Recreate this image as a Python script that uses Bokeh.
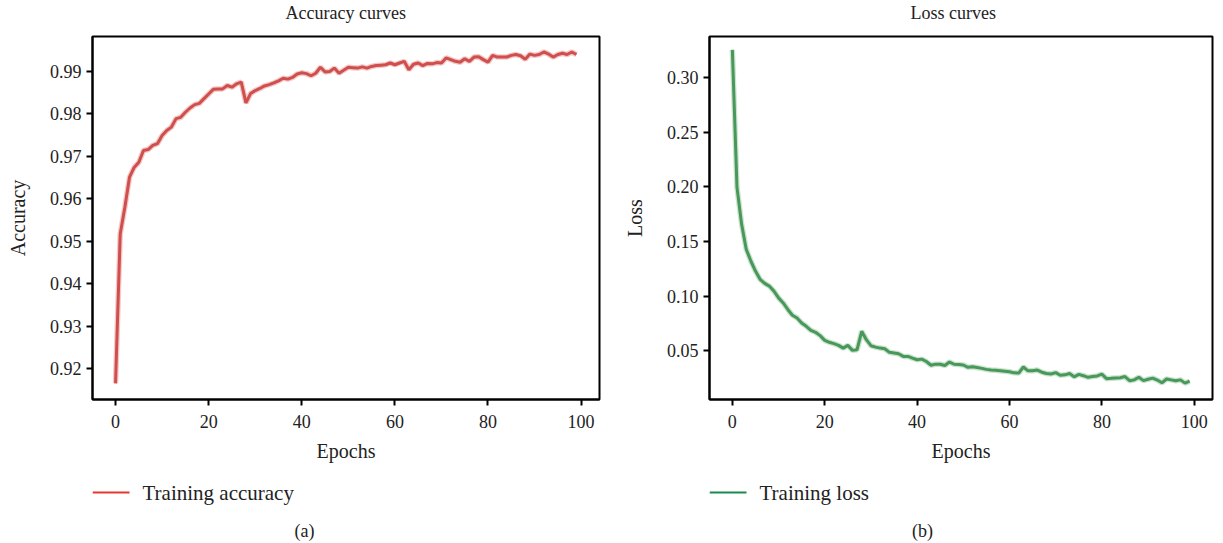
from bokeh.plotting import figure
from bokeh.models import FixedTicker, PrintfTickFormatter, Range1d
from bokeh.layouts import row, column
from bokeh.core.properties import value
from bokeh.embed import file_html
from bokeh.resources import INLINE

epochs = list(range(100))

train_accuracy = [
    0.9165, 0.9517, 0.9580, 0.9651, 0.9674, 0.9686, 0.9714, 0.9716, 0.9726, 0.9730,
    0.9749, 0.9761, 0.9769, 0.9789, 0.9792, 0.9804, 0.9814, 0.9822, 0.9825, 0.9836,
    0.9847, 0.9858, 0.9859, 0.9859, 0.9867, 0.9863, 0.9871, 0.9875, 0.9826, 0.9848,
    0.9855, 0.9860, 0.9866, 0.9869, 0.9873, 0.9878, 0.9884, 0.9882, 0.9886, 0.9894,
    0.9897, 0.9895, 0.9890, 0.9896, 0.9910, 0.9899, 0.9900, 0.9908, 0.9896, 0.9903,
    0.9910, 0.9909, 0.9908, 0.9911, 0.9908, 0.9912, 0.9914, 0.9915, 0.9916, 0.9920,
    0.9916, 0.9920, 0.9924, 0.9904, 0.9917, 0.9920, 0.9914, 0.9919, 0.9918, 0.9921,
    0.9920, 0.9932, 0.9928, 0.9924, 0.9922, 0.9930, 0.9924, 0.9934, 0.9935, 0.9928,
    0.9922, 0.9938, 0.9934, 0.9934, 0.9934, 0.9938, 0.9940, 0.9937, 0.9929, 0.9941,
    0.9938, 0.9940, 0.9946, 0.9941, 0.9934, 0.9940, 0.9943, 0.9940, 0.9946, 0.9940,
]

train_loss = [
    0.3255, 0.1996, 0.1659, 0.1429, 0.1321, 0.1229, 0.1153, 0.1116, 0.1091, 0.1045,
    0.0983, 0.0937, 0.0877, 0.0824, 0.0799, 0.0753, 0.0723, 0.0686, 0.0668, 0.0637,
    0.0594, 0.0576, 0.0564, 0.0548, 0.0523, 0.0548, 0.0502, 0.0508, 0.0677, 0.0600,
    0.0545, 0.0532, 0.0523, 0.0517, 0.0484, 0.0478, 0.0471, 0.0447, 0.0447, 0.0431,
    0.0416, 0.0422, 0.0400, 0.0366, 0.0376, 0.0375, 0.0364, 0.0395, 0.0375, 0.0372,
    0.0368, 0.0347, 0.0352, 0.0345, 0.0337, 0.0328, 0.0322, 0.0320, 0.0316, 0.0311,
    0.0306, 0.0296, 0.0294, 0.0350, 0.0315, 0.0316, 0.0322, 0.0302, 0.0290, 0.0286,
    0.0298, 0.0274, 0.0278, 0.0290, 0.0260, 0.0282, 0.0270, 0.0255, 0.0262, 0.0268,
    0.0284, 0.0243, 0.0246, 0.0250, 0.0252, 0.0262, 0.0224, 0.0232, 0.0256, 0.0225,
    0.0238, 0.0248, 0.0230, 0.0205, 0.0240, 0.0232, 0.0224, 0.0232, 0.0202, 0.0220,
]

x_ticks = [0, 20, 40, 60, 80, 100]
acc_ticks = [0.92, 0.93, 0.94, 0.95, 0.96, 0.97, 0.98, 0.99]
loss_ticks = [0.05, 0.10, 0.15, 0.20, 0.25, 0.30]

FONT = "Liberation Serif"
TXT = "#222222"
HEAD_H = 24
MAIN_TOP = 12
MAIN_BOTTOM = 66
LEG_H = 78


def blank(bl, fw, br, h):
    q = figure(output_backend="svg", toolbar_location=None,
               frame_width=fw, frame_height=h,
               min_border_left=bl, min_border_right=br,
               min_border_top=0, min_border_bottom=0,
               x_range=Range1d(bl, bl + fw), y_range=Range1d(0, h),
               x_axis_location=None, y_axis_location=None,
               background_fill_color="white", border_fill_color="white")
    q.grid.visible = False
    q.outline_line_color = None
    return q


def make_header(bl, fw, br, title, title_x):
    q = blank(bl, fw, br, HEAD_H)
    q.text(x=[title_x], y=[HEAD_H / 2], text=[title],
           text_font=value(FONT), text_font_size="18px", text_color=TXT,
           text_baseline="middle", text_align="left")
    return q


def make_panel(ylabel, y, yticks, yrange, curve_color, halo_color, bl, fw, br):
    p = figure(output_backend="svg", toolbar_location=None,
               frame_width=fw, frame_height=363,
               min_border_left=bl, min_border_right=br,
               min_border_top=MAIN_TOP, min_border_bottom=MAIN_BOTTOM,
               x_range=Range1d(-4.95, 103.95), y_range=Range1d(*yrange),
               background_fill_color="white", border_fill_color="white")
    p.xgrid.visible = False
    p.ygrid.visible = False
    p.outline_line_color = "black"
    p.outline_line_width = 2
    p.outline_line_alpha = 1

    for ax in (p.xaxis[0], p.yaxis[0]):
        ax.axis_line_color = "black"
        ax.axis_line_width = 2
        ax.major_tick_line_color = "black"
        ax.major_tick_line_width = 2
        ax.major_tick_in = 0
        ax.major_tick_out = 6
        ax.minor_tick_line_color = None
        ax.major_label_text_font = FONT
        ax.major_label_text_font_size = "18px"
        ax.major_label_text_color = TXT
        ax.axis_label_text_font = FONT
        ax.axis_label_text_font_size = "20px"
        ax.axis_label_text_font_style = "normal"
        ax.axis_label_text_color = TXT

    p.xaxis.ticker = FixedTicker(ticks=x_ticks)
    p.xaxis.axis_label = "Epochs"
    p.xaxis.major_label_standoff = 9
    p.xaxis.axis_label_standoff = 9

    p.yaxis.ticker = FixedTicker(ticks=yticks)
    p.yaxis.formatter = PrintfTickFormatter(format="%.2f")
    p.yaxis.axis_label = ylabel
    p.yaxis.major_label_standoff = 5
    p.yaxis.axis_label_standoff = 18

    p.line(epochs, y, line_color=halo_color, line_width=5.5, line_alpha=0.45)
    p.line(epochs, y, line_color=curve_color, line_width=3)
    return p


def make_legend(bl, fw, br, legend_color, legend_text, caption, caption_x):
    q = blank(bl, fw, br, LEG_H)
    ly = LEG_H - 27
    q.segment(x0=[bl], y0=[ly], x1=[bl + 37], y1=[ly],
              line_color=legend_color, line_width=2)
    q.text(x=[bl + 50], y=[ly], text=[legend_text],
           text_font=value(FONT), text_font_size="21px", text_color=TXT,
           text_baseline="middle", text_align="left")
    q.text(x=[caption_x], y=[LEG_H - 65], text=[caption],
           text_font=value(FONT), text_font_size="18px", text_color=TXT,
           text_baseline="middle", text_align="center")
    return q


BL1, FW1, BR1 = 92, 507, 15
BL2, FW2, BR2 = 95, 503, 8
W1 = BL1 + FW1 + BR1

h1 = make_header(BL1, FW1, BR1, "Accuracy curves", 285)
h2 = make_header(BL2, FW2, BR2, "Loss curves", 910 - W1)

p1 = make_panel("Accuracy", train_accuracy, acc_ticks, (0.9127, 0.99825),
                "#d04e4c", "#e08886", BL1, FW1, BR1)
p2 = make_panel("Loss", train_loss, loss_ticks, (0.0052, 0.3378),
                "#48985a", "#8cc296", BL2, FW2, BR2)

l1 = make_legend(BL1, FW1, BR1, "#e2392c", "Training accuracy", "(a)", 304)
l2 = make_legend(BL2, FW2, BR2, "#1b8a4e", "Training loss", "(b)", 922 - W1)

layout = row(column(h1, p1, l1), column(h2, p2, l2))
open("out.html", "w").write(file_html(layout, INLINE))
